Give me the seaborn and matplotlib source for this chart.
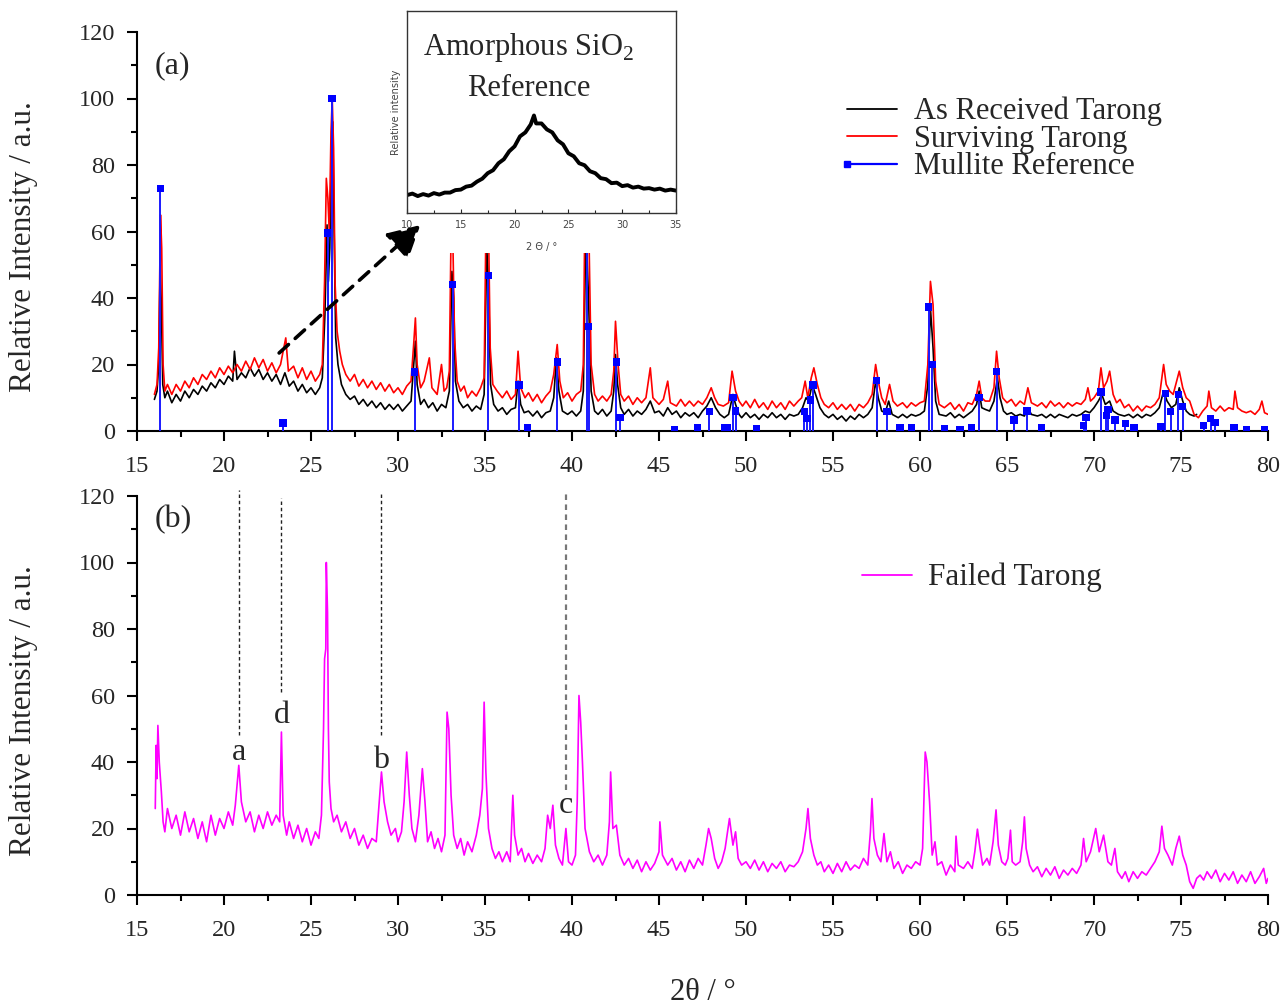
import numpy as np
import pandas as pd
import seaborn as sns
import matplotlib
matplotlib.use("Agg")
import matplotlib.pyplot as plt
from matplotlib.lines import Line2D
from matplotlib.patches import Rectangle, FancyArrowPatch
from matplotlib.ticker import MultipleLocator
from matplotlib.legend_handler import HandlerBase

# ---------------- data ----------------
# As received Tarong (2theta, relative intensity)
as_received = [
    (16.0, 9.5), (16.15, 12), (16.25, 20), (16.33, 50), (16.4, 38), (16.48, 14), (16.6, 10),
    (16.75, 12), (17.0, 8.5), (17.25, 11), (17.5, 9), (17.75, 12), (18.0, 10), (18.25, 12.5),
    (18.5, 11), (18.75, 13.5), (19.0, 12), (19.25, 14.5), (19.5, 13), (19.75, 15.5), (20.0, 14),
    (20.25, 16.5), (20.5, 15), (20.6, 24), (20.75, 15.5), (21.0, 17.5), (21.25, 16), (21.5, 19),
    (21.75, 16.5), (22.0, 18.5), (22.25, 15.5), (22.5, 17.5), (22.75, 15), (23.0, 17), (23.25, 14),
    (23.5, 17.5), (23.75, 13.5), (24.0, 15), (24.25, 12), (24.5, 14), (24.75, 11.5), (25.0, 13),
    (25.25, 11), (25.5, 13), (25.65, 16), (25.8, 35), (25.92, 62), (26.0, 45), (26.08, 55),
    (26.17, 82), (26.25, 93), (26.33, 60), (26.42, 28), (26.55, 20), (26.75, 14), (27.0, 11),
    (27.25, 9.5), (27.5, 10.5), (27.75, 8), (28.0, 9.5), (28.25, 7.5), (28.5, 9), (28.75, 7),
    (29.0, 8.5), (29.25, 6.5), (29.5, 8), (29.75, 6.5), (30.0, 8), (30.25, 6), (30.5, 7.5),
    (30.75, 9), (30.9, 20), (31.0, 27), (31.1, 14), (31.3, 8), (31.5, 9.5), (31.75, 7), (32.0, 8.5),
    (32.25, 6), (32.5, 8), (32.75, 7), (32.95, 12), (33.1, 48), (33.2, 40), (33.3, 15), (33.5, 9),
    (33.75, 7), (34.0, 8), (34.25, 6), (34.5, 7.5), (34.75, 6.5), (34.95, 11), (35.1, 55),
    (35.2, 45), (35.32, 14), (35.5, 8), (35.75, 6), (36.0, 7), (36.25, 5), (36.5, 6.5), (36.75, 7),
    (36.9, 15), (37.05, 8), (37.25, 5.5), (37.5, 6), (37.75, 4.5), (38.0, 6), (38.25, 4), (38.5, 5.5),
    (38.75, 6), (38.95, 10), (39.1, 22), (39.25, 12), (39.45, 6), (39.75, 5), (40.0, 6), (40.25, 4.5),
    (40.5, 6), (40.65, 12), (40.8, 62), (40.95, 40), (41.1, 12), (41.3, 6), (41.5, 5), (41.75, 6.5),
    (42.0, 4.5), (42.25, 6), (42.4, 12), (42.5, 23), (42.62, 14), (42.8, 7), (43.0, 5), (43.25, 6.5),
    (43.5, 4.5), (43.75, 6), (44.0, 5), (44.25, 6.5), (44.5, 9), (44.75, 5.5), (45.0, 6), (45.25, 4.5),
    (45.5, 7), (45.75, 5), (46.0, 6), (46.25, 4), (46.5, 5.5), (46.75, 4.5), (47.0, 5.5), (47.25, 4),
    (47.5, 6), (47.75, 7.5), (48.0, 10), (48.25, 7), (48.5, 5), (48.75, 4), (49.0, 5), (49.25, 11),
    (49.4, 8), (49.6, 5), (49.75, 4), (50.0, 5.5), (50.25, 4), (50.5, 5), (50.75, 3.5), (51.0, 5),
    (51.25, 4), (51.5, 5.5), (51.75, 4), (52.0, 5), (52.25, 3.5), (52.5, 5), (52.75, 4.5), (53.0, 5),
    (53.25, 7), (53.45, 10), (53.6, 9), (53.8, 14), (54.0, 11), (54.25, 7), (54.5, 5), (54.75, 4),
    (55.0, 5), (55.25, 3.5), (55.5, 4.5), (55.75, 3), (56.0, 4.5), (56.25, 3.5), (56.5, 5),
    (56.75, 4), (57.0, 5), (57.25, 7), (57.45, 15), (57.6, 10), (57.8, 6), (58.0, 5.5), (58.2, 9),
    (58.4, 5), (58.75, 4), (59.0, 5), (59.25, 4), (59.5, 5), (59.75, 4.5), (60.0, 5), (60.25, 6),
    (60.45, 14), (60.6, 37), (60.75, 25), (60.9, 9), (61.1, 5), (61.5, 4.5), (61.75, 5.5), (62.0, 4),
    (62.25, 5), (62.5, 4), (62.75, 5), (63.0, 6), (63.25, 8), (63.4, 12), (63.55, 7), (63.75, 6.5),
    (64.0, 6), (64.25, 9), (64.45, 16), (64.6, 10), (64.8, 6), (65.0, 5), (65.25, 5.5), (65.5, 4.5),
    (65.75, 5), (66.0, 4.5), (66.2, 7), (66.4, 5), (66.75, 4.5), (67.0, 5), (67.25, 4), (67.5, 5),
    (67.75, 4), (68.0, 5), (68.25, 4.5), (68.5, 4), (68.75, 5), (69.0, 4.5), (69.25, 5), (69.5, 6),
    (69.75, 5.5), (70.0, 7), (70.25, 9), (70.45, 11), (70.65, 8), (70.9, 9), (71.1, 6), (71.4, 5),
    (71.75, 4.5), (72.0, 5), (72.25, 4), (72.5, 5), (72.75, 4), (73.0, 5), (73.25, 4.5), (73.5, 5.5),
    (73.75, 7), (74.0, 12), (74.2, 9), (74.45, 7), (74.7, 8), (74.9, 13), (75.1, 9), (75.3, 6),
    (75.5, 5), (75.75, 4.5), (75.9, 5),
]

# Surviving Tarong
surviving = [
    (16.0, 11), (16.15, 14), (16.25, 25), (16.35, 65), (16.42, 55), (16.5, 20), (16.6, 12),
    (16.75, 14), (17.0, 11), (17.25, 14), (17.5, 12), (17.75, 15), (18.0, 13), (18.25, 16),
    (18.5, 14), (18.75, 17), (19.0, 15.5), (19.25, 18), (19.5, 16), (19.75, 19), (20.0, 17),
    (20.25, 19.5), (20.5, 17.5), (20.75, 20), (21.0, 18), (21.25, 21), (21.5, 18.5), (21.75, 22),
    (22.0, 19), (22.25, 21.5), (22.5, 18), (22.75, 20.5), (23.0, 17.5), (23.25, 20), (23.55, 28),
    (23.7, 18), (24.0, 19.5), (24.25, 16), (24.5, 19), (24.75, 15.5), (25.0, 18), (25.25, 15),
    (25.5, 17), (25.65, 20), (25.78, 45), (25.88, 76), (25.97, 70), (26.05, 60), (26.15, 90),
    (26.22, 100), (26.3, 85), (26.38, 45), (26.5, 30), (26.65, 24), (26.8, 20), (27.0, 17),
    (27.25, 15), (27.5, 17), (27.75, 13.5), (28.0, 15.5), (28.25, 13), (28.5, 15), (28.75, 12.5),
    (29.0, 14.5), (29.25, 12), (29.5, 14), (29.75, 11.5), (30.0, 13), (30.25, 11), (30.5, 13.5),
    (30.75, 15), (30.9, 26), (31.0, 34), (31.1, 20), (31.3, 13), (31.5, 15), (31.8, 22), (31.95, 13),
    (32.25, 11), (32.5, 20), (32.65, 12), (32.8, 13), (32.95, 18), (33.05, 60), (33.15, 58),
    (33.25, 28), (33.4, 15), (33.6, 12), (33.8, 13.5), (34.0, 10), (34.25, 12), (34.5, 10.5),
    (34.75, 13), (34.95, 16), (35.05, 60), (35.2, 62), (35.3, 25), (35.45, 14), (35.7, 12),
    (36.0, 10), (36.25, 12), (36.5, 9.5), (36.75, 11), (36.9, 24), (37.05, 13), (37.3, 10),
    (37.5, 11.5), (37.75, 9), (38.0, 11), (38.25, 8.5), (38.5, 10.5), (38.75, 12), (38.95, 17),
    (39.15, 26), (39.3, 15), (39.5, 10), (39.75, 11.5), (40.0, 9), (40.25, 11), (40.5, 12),
    (40.65, 20), (40.75, 70), (40.95, 66), (41.1, 20), (41.3, 11), (41.5, 9), (41.75, 10.5),
    (42.0, 9), (42.25, 11), (42.4, 18), (42.5, 33), (42.65, 20), (42.8, 11), (43.0, 9), (43.25, 10.5),
    (43.5, 8), (43.75, 10), (44.0, 8.5), (44.25, 10), (44.5, 19), (44.65, 10), (45.0, 8), (45.25, 9.5),
    (45.5, 15), (45.65, 8.5), (46.0, 7.5), (46.25, 9.5), (46.5, 7.5), (46.75, 9), (47.0, 7.5),
    (47.25, 9), (47.5, 8), (47.75, 10), (48.0, 13), (48.2, 10), (48.4, 8), (48.7, 7.5), (49.0, 8.5),
    (49.2, 18), (49.4, 12), (49.6, 9), (49.8, 7.5), (50.0, 9), (50.25, 7), (50.5, 9.5), (50.75, 7),
    (51.0, 8.5), (51.25, 6.5), (51.5, 9), (51.75, 7), (52.0, 8.5), (52.25, 6.5), (52.5, 9),
    (52.75, 7.5), (53.0, 9), (53.2, 10), (53.4, 15), (53.55, 10), (53.75, 16), (53.9, 19),
    (54.1, 14), (54.3, 10), (54.5, 8), (54.75, 7), (55.0, 8.5), (55.25, 6.5), (55.5, 8),
    (55.75, 6.5), (56.0, 8), (56.25, 6), (56.5, 8), (56.75, 7), (57.0, 8.5), (57.25, 11),
    (57.45, 20), (57.6, 15), (57.8, 10), (58.0, 8), (58.25, 14), (58.45, 9), (58.7, 7.5),
    (59.0, 8.5), (59.25, 7), (59.5, 8.5), (59.75, 7.5), (60.0, 8.5), (60.25, 9), (60.45, 20),
    (60.6, 45), (60.75, 38), (60.9, 15), (61.1, 8), (61.4, 7), (61.75, 8.5), (62.0, 6.5), (62.25, 8),
    (62.5, 6), (62.75, 8.5), (63.0, 8), (63.25, 11), (63.4, 15), (63.55, 10), (63.75, 9), (64.0, 9),
    (64.25, 13), (64.4, 24), (64.55, 16), (64.75, 10), (65.0, 8.5), (65.25, 9.5), (65.5, 7.5),
    (65.75, 9), (66.0, 8), (66.2, 13), (66.4, 8.5), (66.75, 7.5), (67.0, 8.5), (67.25, 7), (67.5, 9),
    (67.75, 7.5), (68.0, 8.5), (68.25, 7), (68.5, 8.5), (68.75, 7.5), (69.0, 8.5), (69.25, 8),
    (69.5, 9.5), (69.65, 13), (69.8, 9), (70.0, 10), (70.25, 12), (70.4, 19), (70.55, 13),
    (70.75, 15), (70.9, 18), (71.1, 11), (71.3, 8.5), (71.5, 9.5), (71.75, 7), (72.0, 8), (72.25, 6),
    (72.5, 7.5), (72.75, 6), (73.0, 7.5), (73.25, 7), (73.5, 8), (73.75, 10), (74.0, 20),
    (74.15, 14), (74.35, 12), (74.55, 11), (74.75, 15), (74.9, 18), (75.1, 13), (75.3, 10),
    (75.5, 9), (75.75, 5), (76.0, 4), (76.25, 6), (76.5, 7.5), (76.6, 12), (76.75, 7), (77.0, 6),
    (77.25, 7.5), (77.5, 6), (77.75, 7), (78.0, 6.5), (78.1, 12), (78.25, 7), (78.5, 6),
    (78.75, 5.5), (79.0, 6), (79.25, 5), (79.5, 6.5), (79.65, 9), (79.8, 5.5), (80.0, 5),
]

# Mullite reference lines (2theta, relative intensity)
mullite_2theta = [16.35, 23.4, 25.95, 26.2, 30.95, 33.15, 35.2, 36.95, 37.45, 39.15, 40.85,
                  40.95, 42.55, 42.75, 45.9, 47.2, 47.9, 48.8, 48.95, 49.25, 49.4, 50.6, 53.35,
                  53.5, 53.7, 53.85, 57.5, 58.1, 58.85, 59.5, 60.5, 60.7, 61.4, 62.3, 62.95, 63.4,
                  64.4, 65.4, 66.15, 67.0, 69.4, 69.55, 70.4, 70.7, 70.8, 71.2, 71.8, 72.3, 73.85,
                  74.1, 74.4, 74.85, 75.1, 76.3, 76.7, 76.95, 78.05, 78.75, 79.8]
mullite_int = [73, 2.4, 59.5, 100, 17.7, 44, 46.8, 13.8, 1, 20.7, 80,
               31.5, 20.7, 4, 0.5, 1, 5.8, 1, 1, 10, 6, 0.6, 5.8,
               3.7, 9.3, 13.8, 15.2, 5.8, 1, 1, 37.3, 20, 0.6, 0.3, 1, 10,
               17.8, 3.3, 6, 1, 1.7, 4, 11.7, 4.7, 6.5, 3.3, 2.2, 1, 1.3,
               11.3, 5.8, 11, 7.4, 1.6, 3.7, 2.5, 1, 0.3, 0.5]

# Failed Tarong
failed = [
    (16.05, 26), (16.1, 45), (16.15, 35), (16.2, 51), (16.28, 40), (16.4, 31), (16.5, 22),
    (16.6, 19), (16.75, 26), (17.0, 20), (17.25, 24), (17.5, 18), (17.75, 25), (18.0, 19),
    (18.25, 23), (18.5, 17), (18.75, 22), (19.0, 16), (19.25, 24), (19.5, 18), (19.75, 23),
    (20.0, 20), (20.25, 25), (20.5, 21), (20.65, 27), (20.85, 39), (21.0, 28), (21.25, 22),
    (21.5, 25), (21.75, 19), (22.0, 24), (22.25, 20), (22.5, 25), (22.75, 21), (23.0, 24),
    (23.2, 22), (23.3, 49), (23.4, 24), (23.6, 18), (23.75, 22), (24.0, 17), (24.25, 21),
    (24.5, 16), (24.75, 20), (25.0, 15), (25.25, 19), (25.45, 17), (25.6, 24), (25.72, 50),
    (25.78, 71), (25.85, 74), (25.88, 100), (25.95, 85), (26.0, 50), (26.05, 34), (26.15, 26),
    (26.3, 22), (26.5, 24), (26.75, 19), (27.0, 22), (27.25, 17), (27.5, 20), (27.75, 15),
    (28.0, 18), (28.25, 14), (28.5, 17), (28.75, 16), (28.95, 30), (29.05, 37), (29.2, 28),
    (29.4, 22), (29.6, 18), (29.85, 20), (30.0, 16), (30.2, 19), (30.35, 28), (30.5, 43),
    (30.65, 30), (30.8, 20), (31.0, 16), (31.2, 24), (31.4, 38), (31.55, 28), (31.7, 16),
    (31.9, 19), (32.1, 14), (32.3, 17), (32.5, 13), (32.7, 18), (32.82, 55), (32.92, 50),
    (33.05, 30), (33.2, 18), (33.4, 14), (33.6, 17), (33.8, 12), (34.0, 16), (34.25, 13),
    (34.5, 18), (34.7, 24), (34.85, 32), (34.95, 58), (35.05, 37), (35.2, 20), (35.4, 14),
    (35.6, 11), (35.8, 13), (36.0, 10), (36.25, 13), (36.45, 10), (36.6, 30), (36.7, 18),
    (36.9, 12), (37.1, 14), (37.3, 10), (37.5, 12.5), (37.75, 9.5), (38.0, 12), (38.25, 10),
    (38.45, 14), (38.6, 24), (38.75, 20), (38.9, 27), (39.05, 15), (39.25, 11), (39.45, 9),
    (39.65, 20), (39.8, 10), (40.0, 9), (40.2, 12), (40.3, 28), (40.4, 60), (40.5, 52),
    (40.6, 40), (40.75, 20), (41.0, 13), (41.25, 10), (41.5, 12), (41.75, 9), (42.0, 12),
    (42.15, 22), (42.22, 37), (42.35, 20), (42.55, 21), (42.75, 12), (43.0, 9), (43.25, 11),
    (43.5, 8), (43.75, 10.5), (44.0, 7), (44.25, 10), (44.5, 7.5), (44.75, 9.5), (45.0, 13),
    (45.05, 22), (45.2, 12), (45.5, 9), (45.75, 11), (46.0, 7.5), (46.25, 10), (46.5, 7),
    (46.75, 10.5), (47.0, 8), (47.25, 11), (47.5, 9), (47.7, 15), (47.85, 20), (48.0, 17),
    (48.2, 11), (48.4, 8), (48.6, 10), (48.8, 14), (49.05, 23), (49.25, 15), (49.4, 19),
    (49.55, 11), (49.75, 9), (50.0, 10), (50.25, 8), (50.5, 10.5), (50.75, 7.5), (51.0, 10),
    (51.25, 7), (51.5, 9.5), (51.75, 8), (52.0, 10), (52.25, 7), (52.5, 9), (52.75, 8.5),
    (53.0, 10), (53.25, 13), (53.45, 20), (53.56, 26), (53.7, 17), (53.9, 12), (54.1, 9),
    (54.3, 10), (54.5, 7), (54.75, 9), (55.0, 6.5), (55.25, 9.5), (55.5, 7), (55.75, 10),
    (56.0, 7.5), (56.25, 9), (56.5, 8), (56.75, 11), (57.0, 9), (57.15, 19), (57.24, 29),
    (57.35, 17), (57.55, 12), (57.75, 10), (57.93, 18.5), (58.1, 10), (58.3, 13), (58.5, 8),
    (58.75, 10), (59.0, 6.5), (59.25, 9), (59.5, 8), (59.75, 10), (60.0, 9), (60.15, 14),
    (60.3, 43), (60.4, 40), (60.55, 28), (60.7, 12), (60.86, 16), (61.0, 9), (61.25, 10),
    (61.5, 6), (61.75, 9), (62.0, 7), (62.07, 17.7), (62.2, 9), (62.5, 8), (62.75, 10), (63.0, 8),
    (63.15, 13), (63.3, 19.8), (63.45, 14), (63.6, 9), (63.85, 11), (64.0, 9), (64.2, 16),
    (64.37, 25.6), (64.5, 15), (64.7, 10), (64.9, 9), (65.05, 11), (65.2, 19.5), (65.3, 10),
    (65.5, 9), (65.75, 10), (65.9, 16), (66.0, 23.5), (66.1, 14), (66.3, 9), (66.5, 7),
    (66.75, 8.5), (67.0, 5.5), (67.25, 8), (67.5, 6), (67.75, 8.5), (68.0, 5), (68.25, 7.5),
    (68.5, 6), (68.75, 8), (69.0, 6.5), (69.25, 9), (69.4, 17), (69.55, 10), (69.8, 13),
    (70.1, 20), (70.3, 13), (70.55, 18), (70.8, 10), (71.0, 9), (71.2, 14), (71.35, 7), (71.6, 5),
    (71.8, 7), (72.0, 4), (72.25, 7), (72.5, 5), (72.75, 7), (73.0, 6), (73.25, 8), (73.5, 10),
    (73.75, 13), (73.9, 20.7), (74.05, 14), (74.25, 12), (74.5, 9), (74.7, 14), (74.9, 17.7),
    (75.1, 12), (75.3, 9), (75.5, 4), (75.7, 2), (75.9, 5), (76.1, 6), (76.3, 4.5), (76.5, 7),
    (76.75, 5), (77.0, 7.5), (77.25, 4), (77.5, 6.5), (77.75, 4.5), (78.0, 7), (78.25, 3.5),
    (78.5, 6), (78.75, 4), (79.0, 7), (79.25, 3.5), (79.5, 5.5), (79.75, 8), (79.9, 3.5), (80.0, 5),
]

# Amorphous SiO2 reference pattern
sio2_2theta = [10, 10.5, 11, 11.5, 12, 12.5, 13, 13.5, 14, 14.5, 15, 15.5, 16, 16.5, 17, 17.5,
               18, 18.5, 19, 19.5, 20, 20.5, 21, 21.5, 21.8, 22, 22.5, 23, 23.5, 24, 24.5, 25,
               25.5, 26, 26.5, 27, 27.5, 28, 28.5, 29, 29.5, 30, 30.5, 31, 31.5, 32, 32.5, 33,
               33.5, 34, 34.5, 35]
sio2_int = [18, 19.5, 17, 19, 17.5, 20, 18.5, 20.5, 20.5, 23, 23.5, 26.5, 27.5, 31.5, 34.5, 40,
            43, 50, 54, 62, 67, 77, 81, 89, 98, 90, 90, 84, 81, 73, 69, 60,
            57, 50, 48, 42, 40, 35, 34, 30, 30.5, 27, 28, 25.5, 26.5, 24.5, 25, 23.5,
            24.5, 22.5, 23.5, 22.5]

# Peak assignments in the failed sample: (label, 2theta, line top, line bottom, label height)
assignments = [("a", 20.85, 121.8, 48.1, 43.0),
               ("d", 23.3, 119.4, 61.0, 54.0),
               ("b", 29.0, 120.9, 48.1, 40.6),
               ("c", 39.65, 120.9, 31.6, 27.0)]

df_ar = pd.DataFrame(as_received, columns=["2theta", "I"])
df_sv = pd.DataFrame(surviving, columns=["2theta", "I"])
df_fd = pd.DataFrame(failed, columns=["2theta", "I"])
df_mu = pd.DataFrame({"2theta": mullite_2theta, "I": mullite_int})
df_si = pd.DataFrame({"2theta": sio2_2theta, "I": sio2_int})

# ---------------- style ----------------
sns.set_theme(style="ticks")
plt.rcParams["font.family"] = ["Liberation Serif", "DejaVu Serif"]
plt.rcParams["mathtext.fontset"] = "custom"
plt.rcParams["mathtext.rm"] = "Liberation Serif"
plt.rcParams["axes.linewidth"] = 1.5

W, H = 1283, 1006
fig = plt.figure(figsize=(W / 100, H / 100), dpi=100)


def fbox(x0, y0, x1, y1):
    """Figure-fraction rectangle from pixel corners (top-left origin)."""
    return [x0 / W, 1 - y1 / H, (x1 - x0) / W, (y1 - y0) / H]


class StickHandler(HandlerBase):
    """Legend key: a line with a square marker at its left end."""

    def create_artists(self, legend, orig_handle, xdescent, ydescent, width, height, fontsize, trans):
        y = height / 2 - ydescent
        line = Line2D([-xdescent, width - xdescent], [y, y], color=orig_handle.get_color(),
                      lw=orig_handle.get_linewidth())
        mk = Line2D([-xdescent], [y], ls="none", marker="s", markersize=orig_handle.get_markersize(),
                    color=orig_handle.get_color())
        line.set_transform(trans)
        mk.set_transform(trans)
        return [line, mk]


ax1 = fig.add_axes(fbox(137, 32, 1268, 431))
ax2 = fig.add_axes(fbox(137, 496, 1268, 895))

for ax in (ax1, ax2):
    ax.set_xlim(15, 80)
    ax.set_ylim(0, 120)
    sns.despine(ax=ax)
    ax.xaxis.set_major_locator(MultipleLocator(5))
    ax.xaxis.set_minor_locator(MultipleLocator(2.5))
    ax.yaxis.set_major_locator(MultipleLocator(20))
    ax.yaxis.set_minor_locator(MultipleLocator(10))
    ax.tick_params(which="major", direction="out", length=7, width=1.5, labelsize=17.5, color="black")
    ax.tick_params(axis="x", which="major", pad=11)
    ax.tick_params(axis="y", which="major", pad=9)
    ax.tick_params(which="minor", direction="out", length=4.5, width=1.5, color="black")
    ax.set_ylabel("Relative Intensity / a.u.", fontsize=22.5)
    ax.yaxis.set_label_coords(-0.0875, 0.462)
    for s in ax.spines.values():
        s.set_color("black")

# ---------------- panel (a) ----------------
sns.lineplot(data=df_ar, x="2theta", y="I", ax=ax1, color="black", lw=1.2, sort=False,
             estimator=None, label="As Received Tarong")
sns.lineplot(data=df_sv, x="2theta", y="I", ax=ax1, color="#ff0000", lw=1.2, sort=False,
             estimator=None, label="Surviving Tarong")
ax1.vlines(df_mu["2theta"], 0, df_mu["I"], color="#1a1aff", lw=1.4, zorder=3)
sns.scatterplot(data=df_mu, x="2theta", y="I", ax=ax1, color="#0000ff", marker="s", s=28,
                edgecolor="none", zorder=4, legend=False)
ax1.set_xlabel("")
ax1.text(16.0, 110, "(a)", fontsize=23, va="center", ha="left")

h_ar = Line2D([], [], color="black", lw=1.3)
h_sv = Line2D([], [], color="#ff0000", lw=1.3)
h_mu = Line2D([], [], color="#0000ff", lw=1.6, marker="s", markersize=5)
ax1.legend([h_ar, h_sv, h_mu], ["As Received Tarong", "Surviving Tarong", "Mullite Reference"],
           loc="upper left", bbox_to_anchor=(847 / W, 1 - 97 / H), bbox_transform=fig.transFigure,
           frameon=False, fontsize=22, handlelength=1.63, handletextpad=0.55, labelspacing=-0.05,
           borderpad=0, borderaxespad=0, handler_map={h_mu: StickHandler()})

# white backing of the inset panel
fig.add_artist(Rectangle((392 / W, 1 - 253 / H), (684 - 392) / W, (253 - 4) / H,
                         transform=fig.transFigure, facecolor="white", edgecolor="none", zorder=1))

axi = fig.add_axes(fbox(407, 11, 676, 213))
axi.set_zorder(2)
sns.lineplot(data=df_si, x="2theta", y="I", ax=axi, color="black", lw=2.8, sort=False, estimator=None)
axi.set_xlim(10, 35)
axi.set_ylim(0, 203)
axi.set_yticks([])
axi.xaxis.set_major_locator(MultipleLocator(5))
axi.xaxis.set_minor_locator(MultipleLocator(2.5))
axi.tick_params(axis="x", which="major", direction="in", length=3, width=0.8, labelsize=7,
                labelcolor="#444444", pad=5, labelfontfamily="DejaVu Sans")
axi.tick_params(axis="x", which="minor", direction="in", length=2, width=0.8)
for s in axi.spines.values():
    s.set_linewidth(1.0)
    s.set_color("#333333")
axi.set_xlabel("2 Θ / °", fontsize=7, color="#444444", family="DejaVu Sans", labelpad=9)
axi.set_ylabel("Relative intensity", fontsize=7, color="#444444", family="DejaVu Sans", labelpad=4)
axi.text(0.453, 0.82, "Amorphous SiO$_2$", transform=axi.transAxes, ha="center", va="center", fontsize=22)
axi.text(0.453, 0.615, "Reference", transform=axi.transAxes, ha="center", va="center", fontsize=22)

# dashed arrow pointing to the amorphous hump
arrow = FancyArrowPatch((23.05, 22.9), (31.4, 62.5), transform=ax1.transData,
                        arrowstyle="-|>,head_length=13,head_width=7", mutation_scale=1.5,
                        color="black", lw=2.6, linestyle=(0, (3.5, 2.5)), zorder=5)
fig.add_artist(arrow)

# ---------------- panel (b) ----------------
sns.lineplot(data=df_fd, x="2theta", y="I", ax=ax2, color="#ff00ff", lw=1.2, sort=False,
             estimator=None, label="Failed Tarong")
ax2.set_xlabel("2θ / °", fontsize=22)
ax2.xaxis.set_label_coords(0.5, (895 - 978) / 399)
ax2.text(16.0, 113, "(b)", fontsize=23, va="center", ha="left")
for lab, xpos, ytop, ybot, ylab in assignments:
    col = "#777777" if lab == "c" else "#222222"
    lw = 1.6 if lab == "c" else 1.0
    ax2.vlines(xpos, ybot, ytop, colors=col, linestyles=(0, (2.5, 2)), lw=lw, clip_on=False)
    ax2.text(xpos, ylab, lab, fontsize=23, ha="center", va="center")

ax2.legend([Line2D([], [], color="#ff00ff", lw=1.3)], ["Failed Tarong"],
           loc="upper left", bbox_to_anchor=(862 / W, 1 - 563 / H), bbox_transform=fig.transFigure,
           frameon=False, fontsize=22.5, handlelength=1.6, handletextpad=0.5,
           borderpad=0, borderaxespad=0)

fig.savefig("out.png", dpi=100)
